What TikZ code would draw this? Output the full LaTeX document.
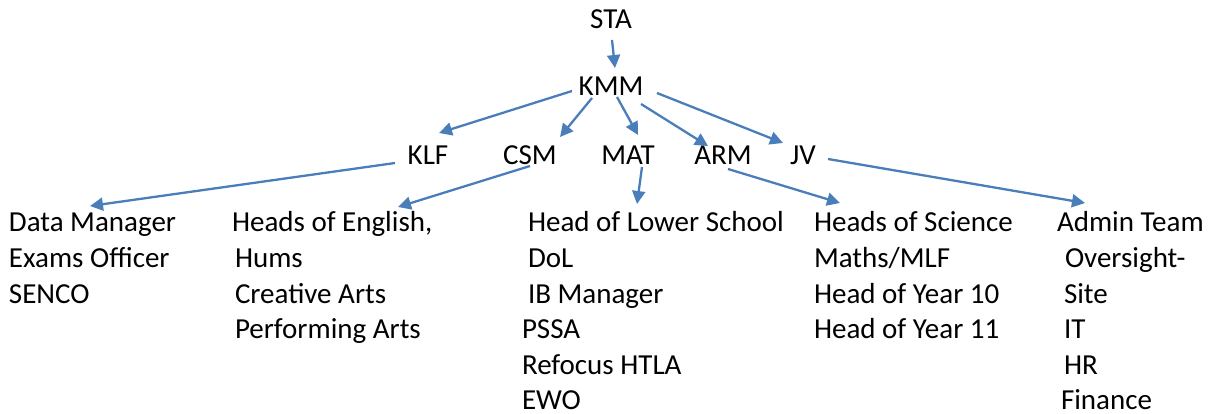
\documentclass[tikz,border=0pt]{standalone}
\usepackage{fontspec}
\setmainfont{Carlito}
\usetikzlibrary{arrows.meta,calc}
\definecolor{arrblue}{RGB}{74,126,187}
\newcommand{\col}[1]{\begin{tabular}[t]{@{}l@{}}#1\end{tabular}}
\tikzset{
  lbl/.style={inner sep=0pt, outer sep=0pt, anchor=base, font=\fontsize{29}{35.6}\selectfont},
  colbox/.style={inner sep=0pt, outer sep=0pt, anchor=base west, font=\fontsize{29}{35.6}\selectfont},
  arr/.style={draw=arrblue, line width=2.3pt, -{Triangle[length=13pt,width=13pt]}}
}
\begin{document}
\begin{tikzpicture}[x=1pt,y=-1pt]
\useasboundingbox (0,0) rectangle (1213,414);
\renewcommand{\arraystretch}{1}
\node[lbl] (sta) at (611,29) {STA};
\node[lbl] (kmm) at (611,96) {KMM};
\node[lbl] (klf) at (428,165) {KLF};
\node[lbl] (csm) at (530,165) {CSM};
\node[lbl] (mat) at (628,165) {MAT};
\node[lbl] (arm) at (723,165) {ARM};
\node[lbl] (jv)  at (803,165) {JV};
\node[colbox] (c1) at (9,232) {\col{Data Manager\\Exams Officer\\SENCO}};
\node[colbox] (c2) at (232,232) {\col{Heads of English,\\\hspace*{3pt}Hums\\\hspace*{3pt}Creative Arts\\\hspace*{3pt}Performing Arts}};
\node[colbox] (c3) at (522,232) {\col{\hspace*{6pt}Head of Lower School\\\hspace*{6pt}DoL\\\hspace*{6pt}IB Manager\\PSSA\\Refocus HTLA\\EWO}};
\node[colbox] (c4) at (814,232) {\col{Heads of Science\\Maths/MLF\\Head of Year 10\\Head of Year 11}};
\node[colbox] (c5) at (1057,232) {\col{Admin Team\\\hspace*{8pt}Oversight-\\\hspace*{7pt}Site\\\hspace*{7pt}IT\\\hspace*{7pt}HR\\\hspace*{4pt}Finance}};
\draw[arr] ($(sta.base)+(1,11)$) -- ($(kmm.base)+(4,-28)$);
\draw[arr] ($(kmm.base)+(-39,-5)$) -- ($(klf.base)+(11,-32)$);
\draw[arr] ($(kmm.base)+(-19,2)$) -- ($(csm.base)+(30,-28)$);
\draw[arr] ($(kmm.base)+(6,1)$) -- ($(mat.base)+(10,-30)$);
\draw[arr] ($(kmm.base)+(30,8)$) -- ($(arm.base)+(-15,-19)$);
\draw[arr] ($(kmm.base)+(46,-3)$) -- ($(jv.base)+(-20,-22)$);
\draw[arr] ($(klf.base)+(-33,-2)$) -- ($(c1.base west)+(81,-26)$);
\draw[arr] ($(csm.base)+(0,1)$) -- ($(c2.base west)+(166,-25)$);
\draw[arr] ($(mat.base)+(14,2)$) -- ($(c3.base west)+(115,-28)$);
\draw[arr] ($(arm.base)+(5,4)$) -- ($(c4.base west)+(26,-29)$);
\draw[arr] ($(jv.base)+(25,-6)$) -- ($(c5.base west)+(28,-29)$);
\end{tikzpicture}
\end{document}
